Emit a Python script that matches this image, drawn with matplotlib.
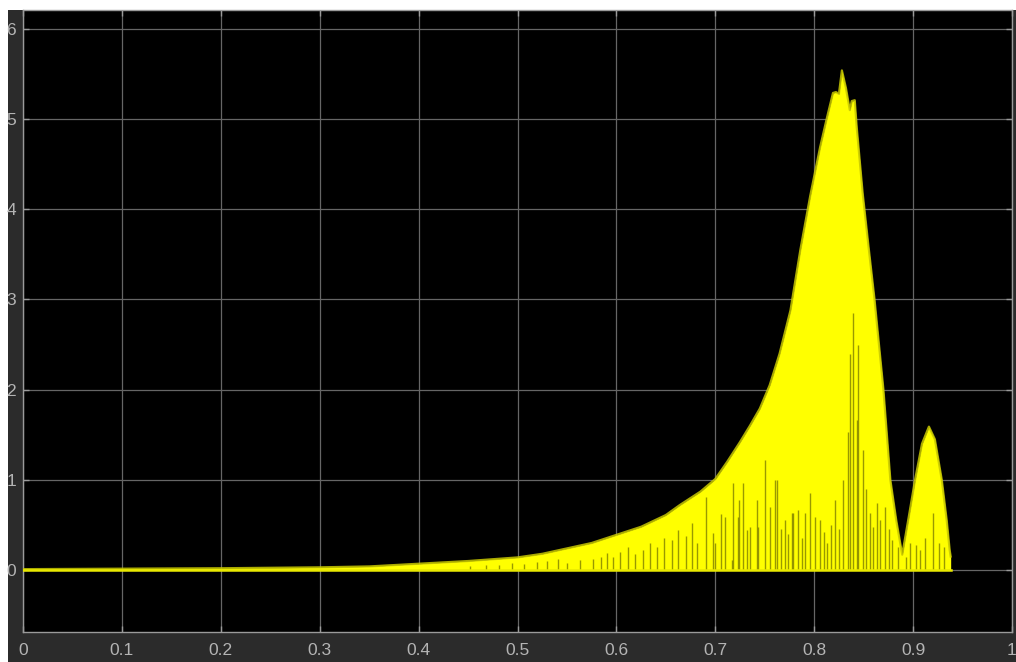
import numpy as np
import matplotlib
matplotlib.use('Agg')
import matplotlib.pyplot as plt
from matplotlib.patches import Rectangle

# scope trace: upper envelope of the oscillating signal
env_t = [0.0, 0.1, 0.2, 0.3, 0.35, 0.4, 0.45, 0.5, 0.525, 0.55, 0.575, 0.6, 0.625,
         0.65, 0.664, 0.685, 0.7, 0.712, 0.725, 0.735, 0.745, 0.755, 0.765, 0.776,
         0.786, 0.796, 0.806, 0.813, 0.819, 0.822, 0.825, 0.828, 0.832, 0.836,
         0.838, 0.841, 0.843, 0.849, 0.855, 0.861, 0.870, 0.877, 0.883, 0.889,
         0.895, 0.902, 0.909, 0.916, 0.922, 0.929, 0.934, 0.937, 0.938]
env_y = [0.01, 0.015, 0.02, 0.03, 0.04, 0.07, 0.10, 0.14, 0.18, 0.24, 0.30, 0.39, 0.48,
         0.61, 0.72, 0.87, 1.01, 1.20, 1.42, 1.60, 1.79, 2.05, 2.40, 2.88,
         3.55, 4.15, 4.69, 5.02, 5.29, 5.30, 5.28, 5.54, 5.35, 5.10,
         5.20, 5.21, 4.91, 4.18, 3.58, 3.00, 2.00, 1.00, 0.55, 0.17,
         0.55, 1.00, 1.40, 1.59, 1.45, 1.00, 0.55, 0.22, 0.15]

# darker streaks where the trace dips back to zero
streak_t = [0.452, 0.468, 0.481, 0.494, 0.507, 0.520, 0.530, 0.541, 0.550, 0.563,
            0.576, 0.584, 0.590, 0.597, 0.604, 0.612, 0.619, 0.627, 0.634, 0.641,
            0.648, 0.656, 0.662, 0.670, 0.676, 0.681, 0.691, 0.698, 0.700, 0.706,
            0.710, 0.717, 0.718, 0.723, 0.724, 0.728, 0.732, 0.735, 0.742, 0.743,
            0.750, 0.755, 0.760, 0.762, 0.766, 0.770, 0.774, 0.778, 0.779, 0.784,
            0.788, 0.791, 0.796, 0.801, 0.806, 0.810, 0.813, 0.817, 0.821, 0.825,
            0.829, 0.834, 0.836, 0.839, 0.843, 0.844, 0.849, 0.852, 0.856, 0.859,
            0.863, 0.867, 0.872, 0.876, 0.879, 0.885, 0.893, 0.897, 0.903, 0.907,
            0.912, 0.920, 0.926, 0.931]
streak_y = [0.05, 0.06, 0.06, 0.08, 0.07, 0.09, 0.10, 0.12, 0.08, 0.11,
            0.12, 0.15, 0.19, 0.14, 0.20, 0.26, 0.18, 0.22, 0.30, 0.25,
            0.36, 0.33, 0.44, 0.38, 0.52, 0.30, 0.81, 0.41, 0.30, 0.62,
            0.59, 0.11, 0.96, 0.59, 0.78, 0.96, 0.44, 0.48, 0.78, 0.48,
            1.22, 0.70, 1.00, 1.00, 0.45, 0.55, 0.40, 0.63, 0.63, 0.67,
            0.35, 0.63, 0.85, 0.59, 0.55, 0.42, 0.30, 0.50, 0.78, 0.45,
            1.00, 1.53, 2.40, 2.85, 1.66, 2.50, 1.33, 0.90, 0.63, 0.48,
            0.74, 0.55, 0.70, 0.45, 0.33, 0.25, 0.15, 0.30, 0.28, 0.22,
            0.35, 0.63, 0.30, 0.25]

x_ticks = [0, 0.1, 0.2, 0.3, 0.4, 0.5, 0.6, 0.7, 0.8, 0.9, 1]
x_labels = ['0', '0.1', '0.2', '0.3', '0.4', '0.5', '0.6', '0.7', '0.8', '0.9', '1']
y_ticks = [0, 1, 2, 3, 4, 5, 6]

bg = '#2b2b2b'
fg = '#b4b4b4'
plt.rcParams['font.family'] = ['Liberation Sans', 'DejaVu Sans']

fig = plt.figure(figsize=(10.16, 6.62), dpi=100, facecolor='white')
backdrop = Rectangle((8 / 1016, 0), 1, 652 / 662, transform=fig.transFigure,
                     facecolor=bg, edgecolor='none', zorder=-10)
fig.add_artist(backdrop)

ax = fig.add_axes([23 / 1016, 30 / 662, 989 / 1016, 622 / 662])
ax.set_zorder(1)
ax.set_facecolor('black')

ax.fill_between(env_t, 0, env_y, color='#ffff00', linewidth=0, zorder=3)
ax.plot(env_t, env_y, color='#c8c800', linewidth=1.6, alpha=0.85, zorder=4)
ax.vlines(streak_t, 0, streak_y, color='#6e6e00', linewidth=1.0, alpha=0.7, zorder=4)
ax.plot([env_t[0], env_t[-1]], [0, 0], color='#e8e800', linewidth=1.8, zorder=5)

ax.set_xlim(0, 1)
ax.set_ylim(-0.687, 6.21)
ax.set_xticks(x_ticks)
ax.set_xticklabels(x_labels)
ax.set_yticks(y_ticks)

ax.grid(True, color='#666666', linewidth=0.9, zorder=1)
ax.set_axisbelow(True)
ax.tick_params(direction='in', length=4, width=1, color='#9a9a9a',
               top=True, right=True, labelcolor=fg, labelsize=12.5)
ax.tick_params(axis='x', pad=8)
ax.tick_params(axis='y', pad=5)
for s in ax.spines.values():
    s.set_color('#9a9a9a')
    s.set_linewidth(1.0)

fig.savefig('out.png', dpi=100, facecolor=fig.get_facecolor())
